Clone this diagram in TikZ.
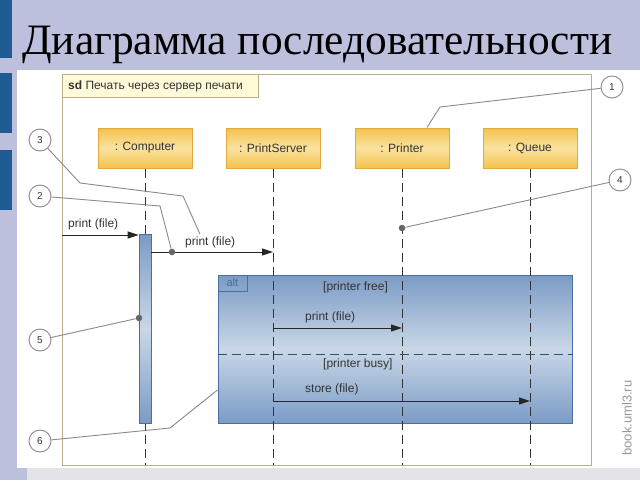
\documentclass[tikz,border=0pt]{standalone}
\usepackage{fontspec}
\setmainfont{Liberation Serif}
\newfontfamily\umlsans{Liberation Sans}
\usetikzlibrary{arrows.meta}
\definecolor{slidebg}{HTML}{BCC0DC}
\definecolor{slidebar}{HTML}{1E5A94}
\definecolor{strip}{HTML}{E4E4E8}
\definecolor{framec}{HTML}{B8B08C}
\definecolor{tabfill}{HTML}{FFFBD8}
\definecolor{headtop}{HTML}{F3C24E}
\definecolor{headmid}{HTML}{FBE2A0}
\definecolor{headline}{HTML}{E3AC3A}
\definecolor{altdark}{HTML}{7B9BC6}
\definecolor{altlight}{HTML}{C9D7E7}
\definecolor{altline}{HTML}{4A70A0}
\definecolor{altdash}{HTML}{34506F}
\definecolor{txt}{HTML}{333333}
\definecolor{leadc}{HTML}{8A8A8A}

\begin{document}
\begin{tikzpicture}
            [x=1pt, y=-1pt,
             every node/.style={inner sep=0pt, font=\umlsans\fontsize{12}{14}\selectfont, text=txt},
             head/.style={rectangle, minimum width=94pt, minimum height=40pt, draw=headline, line width=1pt,
               top color=headtop, bottom color=headtop, middle color=headmid},
             lifeline/.style={draw=txt, line width=1pt, dash pattern=on 9pt off 5pt},
             msg/.style={draw=black!85, line width=1pt, -{Triangle[length=11pt,width=7pt]}},
             callout/.style={circle, minimum size=22pt, draw=leadc, fill=white, line width=0.9pt,
               font=\umlsans\fontsize{10}{12}\selectfont},
             lead/.style={draw=leadc, line width=0.9pt},
             dotmark/.style={circle, minimum size=6.5pt, fill=black!60}]
                \useasboundingbox (0,0) rectangle (640,480);
                \fill[slidebg] (0,0) rectangle (640,480);
                \fill[white] (17,70) rectangle (640,468);
                \fill[strip] (27,468) rectangle (640,480);
                \fill[slidebar] (0,0) rectangle (12,58);
                \fill[slidebar] (0,73) rectangle (12,133);
                \fill[slidebar] (0,150) rectangle (12,210);
                \node (title) [anchor=base west, font=\fontsize{43.4}{50}\selectfont, text=black] at (22,54) {Диаграмма последовательности};

                \draw[framec, line width=1pt] (62,74) rectangle (591,465);
                \node (sd) [rectangle, anchor=north west, minimum width=196pt, minimum height=23pt, fill=tabfill, draw=framec, line width=1pt] at (62,74) {};
                \node (sdtext) [anchor=west] at (68,86) {\textbf{sd} Печать через сервер печати};
                \coordinate (fb) at (0,465);

                \node (alt) [rectangle, minimum width=354pt, minimum height=148pt, draw=altline, line width=1pt,
                  top color=altdark, bottom color=altdark, middle color=altlight] at (395,349) {};
                \node (alttab) [rectangle, anchor=north west, minimum width=29pt, minimum height=16pt, draw=altline, line width=0.8pt, text=altline,
                  font=\umlsans\fontsize{11}{13}\selectfont] at (alt.north west) {alt};

                \node (computer) [head] at (145,148) {: Computer};
                \node (server) [head] at (273,148) {: PrintServer};
                \node (printer) [head] at (402,148) {: Printer};
                \node (queue) [head] at (530,148) {: Queue};
                \draw[lifeline] (computer.south) -- (computer.south |- fb);
                \draw[lifeline] (server.south) -- (server.south |- fb);
                \draw[lifeline] (printer.south) -- (printer.south |- fb);
                \draw[lifeline] (queue.south) -- (queue.south |- fb);
                \draw[altdash, line width=1pt, dash pattern=on 9pt off 5pt] (alt.west |- 0,354) -- (alt.east |- 0,354);

                \node (act) [rectangle, minimum width=12pt, minimum height=189pt, draw=altline, line width=0.8pt,
                  top color=altdark, bottom color=altdark, middle color=altlight] at (145,328.5) {};

                \coordinate (m1) at (62,235);
                \coordinate (m2) at (0,252);
                \coordinate (m3) at (0,328);
                \coordinate (m4) at (0,401);
                \draw[msg] (m1) -- (m1 -| act.west);
                \draw[msg] (m2 -| act.east) -- (m2 -| server.south);
                \draw[msg] (m3 -| server.south) -- (m3 -| printer.south);
                \draw[msg] (m4 -| server.south) -- (m4 -| queue.south);
                \node (l1) [anchor=west] at (68,224) {print (file)};
                \node (l2) [anchor=west] at (185,242) {print (file)};
                \node (l3) [anchor=west] at (305,317) {print (file)};
                \node (l4) [anchor=west] at (305,389) {store (file)};
                \node (g1) [anchor=west] at (323,287) {[printer free]};
                \node (g2) [anchor=west] at (323,364) {[printer busy]};

                \node (d2) [dotmark] at (172,252) {};
                \node (d4) [dotmark] at (402,228) {};
                \node (d5) [dotmark] at (139,318) {};

                \node (c1) [callout] at (612,87) {1};
                \node (c2) [callout] at (40,196) {2};
                \node (c3) [callout] at (40,140) {3};
                \node (c4) [callout] at (620,180) {4};
                \node (c5) [callout] at (40,340) {5};
                \node (c6) [callout] at (40,441) {6};
                \draw[lead] (c1) -- (440,107) -- ([xshift=25pt]printer.north);
                \draw[lead] (c2) -- (160,206) -- (d2);
                \draw[lead] (c3) -- (80,183) -- (183,196) -- ([xshift=15pt, yshift=2pt]l2.north west);
                \draw[lead] (c4) -- (d4);
                \draw[lead] (c5) -- (d5);
                \draw[lead] (c6) -- (170,428) -- ([yshift=-41pt]alt.west);

                \node (mark) [rotate=90, text=black!40, font=\umlsans\fontsize{13}{15}\selectfont] at (627,418) {book.uml3.ru};
            \end{tikzpicture}
\end{document}
